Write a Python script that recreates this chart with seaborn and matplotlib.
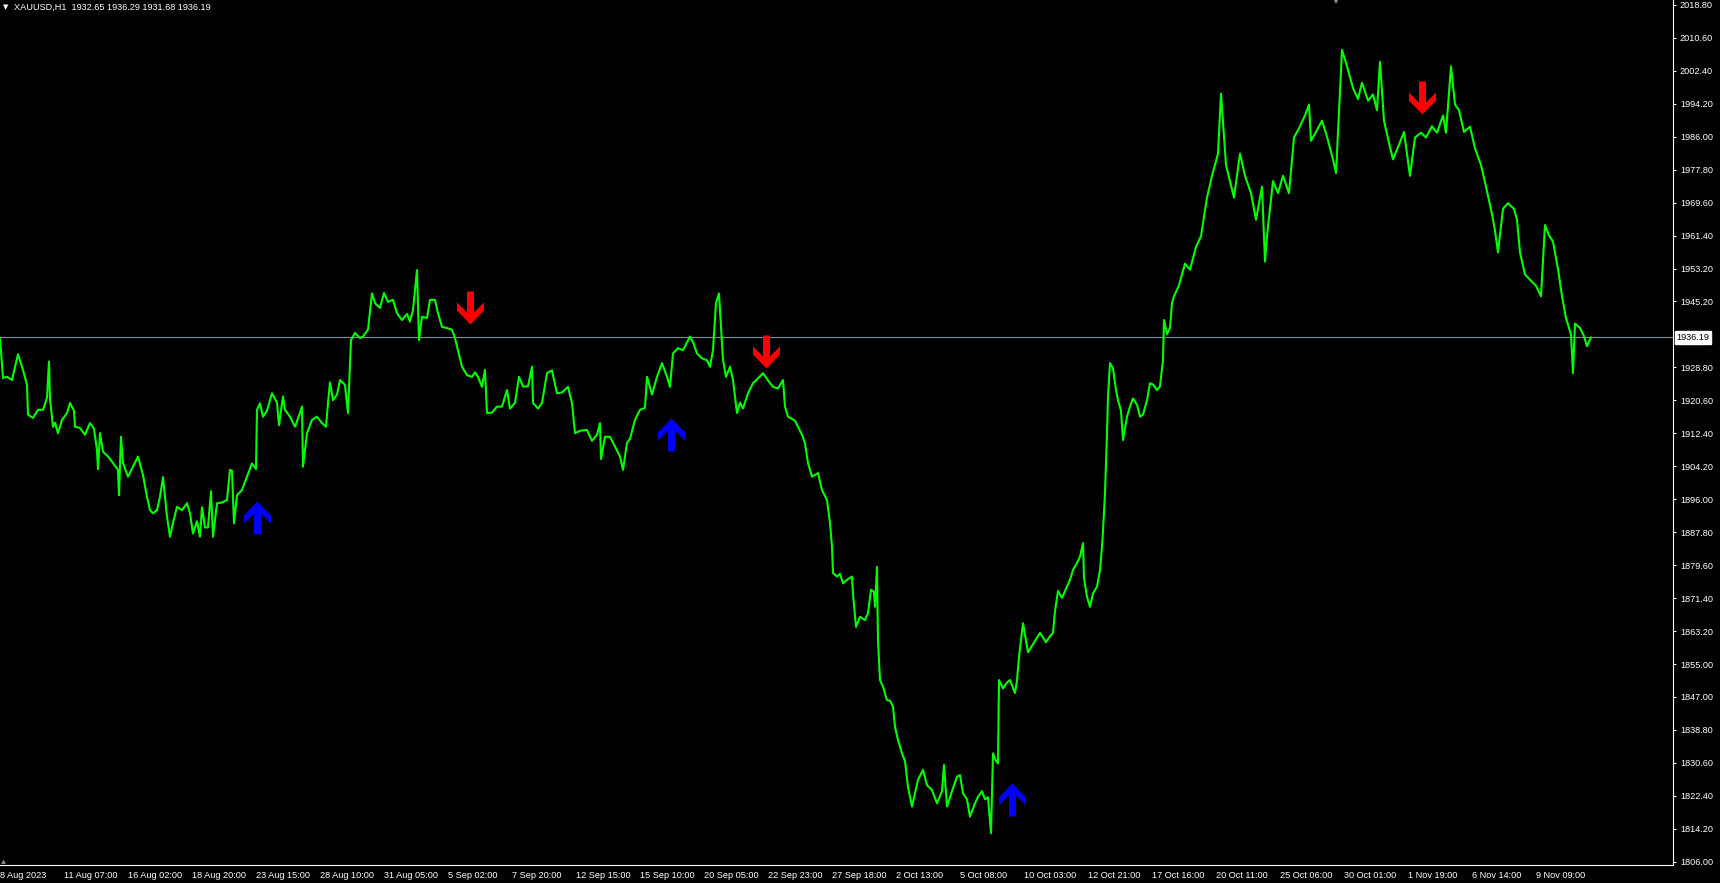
import numpy as np
import pandas as pd
import matplotlib
matplotlib.use("Agg")
import matplotlib.pyplot as plt
from matplotlib.path import Path
from matplotlib.markers import MarkerStyle
import seaborn as sns

# ---------------- data (H1 bar index, close price) ----------------
bar = [0, 3, 7, 12, 18, 23, 27, 28, 33, 38, 43, 47, 49, 50, 53, 55, 58, 62, 67, 70,
       74, 75, 80, 85, 90, 94, 97, 98, 100, 103, 108, 113, 118, 119, 121, 123, 128, 133, 138, 143,
       147, 150, 153, 157, 160, 163, 167, 170, 173, 177, 182, 187, 190, 193, 197, 200, 202, 205, 208, 211,
       213, 217, 222, 227, 230, 232, 234, 237, 242, 247, 252, 256, 257, 260, 263, 267, 272, 277, 279, 283,
       285, 290, 295, 300, 302, 303, 307, 312, 317, 322, 326, 328, 330, 333, 337, 340, 345, 348, 351, 355,
       360, 363, 368, 372, 375, 380, 384, 388, 393, 397, 402, 407, 410, 413, 417, 419, 422, 427, 430, 435,
       438, 442, 447, 452, 455, 458, 462, 467, 472, 475, 478, 482, 485, 487, 492, 497, 502, 507, 510, 515,
       519, 523, 528, 532, 533, 538, 542, 547, 552, 557, 562, 568, 572, 575, 580, 587, 592, 597, 600, 601,
       605, 610, 615, 620, 623, 627, 630, 635, 640, 645, 647, 652, 657, 662, 667, 670, 673, 678, 683, 690,
       693, 697, 702, 707, 710, 713, 716, 719, 721, 723, 726, 730, 733, 737, 740, 743, 748, 753, 758, 763,
       768, 773, 778, 783, 785, 788, 795, 798, 802, 805, 808, 812, 818, 822, 827, 830, 832, 833, 837, 840,
       843, 847, 852, 853, 856, 860, 865, 868, 871, 874, 875, 877, 878, 880, 883, 887, 890, 893, 895, 898,
       902, 905, 908, 912, 915, 918, 923, 927, 932, 937, 942, 944, 947, 952, 957, 960, 963, 967, 970, 975,
       978, 982, 985, 988, 991, 993, 996, 998, 999, 1003, 1007, 1010, 1015, 1017, 1019, 1023, 1028, 1033, 1040, 1046,
       1050, 1053, 1055, 1058, 1062, 1065, 1070, 1073, 1077, 1080, 1083, 1084, 1087, 1090, 1093, 1097, 1100, 1102, 1103, 1105,
       1107, 1108, 1110, 1113, 1116, 1118, 1121, 1123, 1127, 1130, 1133, 1137, 1140, 1143, 1147, 1150, 1153, 1157, 1160, 1163,
       1164, 1167, 1170, 1172, 1174, 1179, 1185, 1190, 1196, 1201, 1207, 1212, 1218, 1221, 1226, 1234, 1240, 1245, 1251, 1256,
       1262, 1265, 1267, 1273, 1278, 1283, 1289, 1294, 1300, 1305, 1309, 1311, 1316, 1322, 1327, 1333, 1336, 1338, 1342, 1347,
       1353, 1358, 1362, 1368, 1373, 1377, 1380, 1384, 1389, 1393, 1399, 1404, 1410, 1415, 1421, 1426, 1432, 1437, 1443, 1446,
       1451, 1455, 1459, 1464, 1470, 1475, 1481, 1486, 1492, 1495, 1498, 1503, 1508, 1514, 1517, 1520, 1525, 1530, 1536, 1541,
       1545, 1549, 1553, 1558, 1562, 1566, 1571, 1573, 1575, 1580, 1584, 1587, 1591]
close = [1936.0, 1926.1, 1926.4, 1925.6, 1932.0, 1928.1, 1924.4, 1917.0, 1916.2, 1918.2, 1918.2, 1921.2, 1930.2, 1921.0, 1914.0, 1915.0, 1912.4, 1915.7, 1917.4, 1919.9,
         1918.0, 1914.0, 1913.7, 1912.0, 1914.9, 1913.5, 1908.2, 1903.5, 1912.4, 1907.8, 1906.6, 1905.0, 1903.3, 1897.0, 1911.5, 1905.0, 1901.6, 1904.1, 1906.6, 1902.0,
         1896.6, 1893.3, 1892.5, 1893.3, 1896.6, 1901.5, 1891.7, 1886.7, 1890.1, 1894.1, 1893.3, 1895.0, 1892.5, 1887.5, 1890.5, 1886.7, 1894.0, 1889.0, 1889.0, 1898.0,
         1886.7, 1895.0, 1895.2, 1895.8, 1903.3, 1903.0, 1890.0, 1897.0, 1898.3, 1901.6, 1904.9, 1903.5, 1918.2, 1919.8, 1916.5, 1918.0, 1922.3, 1920.0, 1914.4, 1921.5,
         1918.2, 1916.5, 1914.0, 1917.4, 1919.0, 1904.1, 1912.4, 1915.7, 1916.5, 1914.9, 1914.0, 1919.9, 1925.0, 1920.6, 1922.0, 1925.6, 1924.4, 1917.4, 1935.5, 1937.3,
         1936.0, 1936.4, 1938.1, 1947.1, 1944.7, 1943.5, 1947.2, 1945.0, 1945.5, 1942.2, 1940.5, 1942.0, 1940.1, 1943.0, 1952.9, 1935.5, 1941.3, 1941.0, 1945.5, 1945.5,
         1942.2, 1938.8, 1938.5, 1938.1, 1936.0, 1933.0, 1928.9, 1926.8, 1926.4, 1927.5, 1926.4, 1923.9, 1928.1, 1917.4, 1917.5, 1919.0, 1919.0, 1923.1, 1918.5, 1919.9,
         1926.4, 1924.0, 1924.0, 1928.9, 1919.9, 1918.5, 1919.9, 1927.3, 1928.0, 1922.3, 1922.5, 1923.9, 1919.9, 1912.4, 1913.0, 1913.2, 1910.5, 1912.0, 1914.9, 1906.0,
         1911.5, 1911.5, 1909.1, 1906.6, 1903.3, 1910.0, 1911.0, 1915.7, 1918.2, 1918.7, 1926.4, 1922.0, 1926.4, 1929.8, 1926.4, 1923.9, 1932.2, 1933.5, 1933.0, 1936.4,
         1935.0, 1932.2, 1931.0, 1930.5, 1928.9, 1933.0, 1944.7, 1947.1, 1939.0, 1930.6, 1926.4, 1928.9, 1925.6, 1917.4, 1920.0, 1918.5, 1922.3, 1924.8, 1926.0, 1927.3,
         1925.5, 1923.9, 1923.5, 1925.6, 1919.0, 1916.5, 1915.5, 1914.0, 1912.0, 1909.9, 1905.0, 1901.6, 1902.5, 1898.3, 1895.8, 1890.1, 1884.2, 1877.7, 1876.8, 1877.5,
         1875.1, 1876.0, 1876.8, 1872.6, 1864.3, 1866.8, 1866.0, 1867.7, 1873.5, 1873.0, 1869.3, 1879.2, 1861.0, 1851.1, 1849.5, 1846.1, 1846.0, 1844.5, 1839.5, 1836.2,
         1832.9, 1831.0, 1824.6, 1819.7, 1823.0, 1826.3, 1828.8, 1825.0, 1823.8, 1820.5, 1823.5, 1830.0, 1819.7, 1823.5, 1827.1, 1827.5, 1823.0, 1821.5, 1817.2, 1820.5,
         1822.1, 1823.5, 1821.5, 1822.0, 1813.1, 1832.9, 1831.0, 1830.4, 1851.1, 1849.0, 1850.5, 1851.1, 1847.9, 1851.0, 1856.9, 1865.2, 1858.0, 1860.0, 1862.8, 1860.5,
         1862.0, 1862.8, 1868.2, 1873.2, 1871.5, 1873.2, 1876.0, 1878.4, 1880.2, 1881.7, 1885.1, 1876.5, 1871.8, 1869.3, 1872.6, 1874.3, 1878.4, 1884.2, 1888.1, 1897.5,
         1912.4, 1921.5, 1929.8, 1928.5, 1923.1, 1920.6, 1918.0, 1910.7, 1916.5, 1919.0, 1921.0, 1919.5, 1916.5, 1917.0, 1920.6, 1924.8, 1924.5, 1923.1, 1924.0, 1930.6,
         1940.5, 1937.0, 1938.5, 1944.7, 1946.4, 1949.1, 1954.5, 1953.0, 1958.6, 1961.3, 1970.9, 1976.3, 1981.8, 1996.7, 1979.0, 1970.9, 1981.8, 1976.3, 1972.0, 1965.4,
         1973.6, 1955.0, 1961.3, 1975.0, 1972.0, 1976.3, 1972.0, 1985.8, 1988.6, 1991.3, 1994.0, 1985.0, 1987.2, 1990.0, 1986.0, 1980.4, 1977.0, 1987.0, 2007.6, 2003.5,
         1998.1, 1995.4, 1999.4, 1995.0, 1996.5, 1992.6, 2004.6, 1990.0, 1984.5, 1980.4, 1984.0, 1987.2, 1976.3, 1985.8, 1987.0, 1985.8, 1988.6, 1987.0, 1991.3, 1987.0,
         2003.5, 1994.0, 1992.6, 1987.2, 1988.5, 1983.1, 1979.0, 1973.6, 1966.8, 1962.7, 1957.3, 1968.1, 1969.5, 1968.1, 1965.4, 1957.3, 1951.8, 1950.5, 1949.0, 1946.4,
         1964.1, 1961.5, 1960.0, 1953.2, 1946.4, 1941.0, 1936.9, 1927.3, 1939.6, 1938.5, 1936.5, 1934.0, 1936.19]

# signal arrows (bar index, price at arrow tip)
sell_bar = [470, 766, 1422]
sell_price = [1939.6, 1928.5, 1991.7]
buy_bar = [257, 671, 1012]
buy_price = [1895.6, 1916.1, 1825.5]

last_price = 1936.19
header = "XAUUSD,H1  1932.65 1936.29 1931.68 1936.19"

ytick_vals = [2018.80, 2010.60, 2002.40, 1994.20, 1986.00, 1977.80, 1969.60, 1961.40, 1953.20,
              1945.20, 1928.80, 1920.60, 1912.40, 1904.20, 1896.00, 1887.80, 1879.60,
              1871.40, 1863.20, 1855.00, 1847.00, 1838.80, 1830.60, 1822.40, 1814.20, 1806.00]
xtick_labels = ["8 Aug 2023", "11 Aug 07:00", "16 Aug 02:00", "18 Aug 20:00", "23 Aug 15:00",
                "28 Aug 10:00", "31 Aug 05:00", "5 Sep 02:00", "7 Sep 20:00", "12 Sep 15:00",
                "15 Sep 10:00", "20 Sep 05:00", "22 Sep 23:00", "27 Sep 18:00", "2 Oct 13:00",
                "5 Oct 08:00", "10 Oct 03:00", "12 Oct 21:00", "17 Oct 16:00", "20 Oct 11:00",
                "25 Oct 06:00", "30 Oct 01:00", "1 Nov 19:00", "6 Nov 14:00", "9 Nov 09:00"]
bars_per_label = 64

# ---------------- figure ----------------
sns.set_theme(style="dark")
plt.rcParams['font.family'] = ['Liberation Sans', 'DejaVu Sans']

W, H, DPI = 1720, 883, 100
fig = plt.figure(figsize=(W / DPI, H / DPI), dpi=DPI, facecolor="black")
ax = fig.add_axes([0, 18 / H, 1673 / W, 865 / H])
ax.set_facecolor("black")

df = pd.DataFrame({"bar": bar, "close": close})
sns.lineplot(data=df, x="bar", y="close", color="#00FF00", linewidth=1.5,
             estimator=None, ax=ax, zorder=3)

ax.set_xlim(0, 1673)
ax.set_ylim(1805.18, 2019.96)

# current price line
ax.axhline(last_price, color="#8090A0", linewidth=0.8, zorder=2)

# arrow markers (pixel units, tip at origin)
up_verts = [(0, 0), (13.5, -14), (13.5, -22), (3.5, -12), (3.5, -33), (-3.5, -33),
            (-3.5, -12), (-13.5, -22), (-13.5, -14), (0, 0)]
up_path = Path(up_verts, closed=True)
down_path = Path([(x, -y) for x, y in up_verts], closed=True)
msize = 2 * 33 * 72 / DPI
ax.plot(buy_bar, buy_price, linestyle="none", marker=MarkerStyle(up_path),
        markersize=msize, color="#0000FF", markeredgewidth=0, zorder=4)
ax.plot(sell_bar, sell_price, linestyle="none", marker=MarkerStyle(down_path),
        markersize=msize, color="#FF0000", markeredgewidth=0, zorder=4)

# axes styling
for s in ["left", "top"]:
    ax.spines[s].set_visible(False)
for s in ["right", "bottom"]:
    ax.spines[s].set_color("white")
    ax.spines[s].set_linewidth(0.8)
ax.grid(False)
ax.set_xlabel("")
ax.set_ylabel("")

ax.yaxis.tick_right()
ax.set_yticks(ytick_vals)
ax.set_yticklabels([f"{v:.2f}" for v in ytick_vals])
ax.tick_params(axis="y", colors="white", labelcolor="white", length=2.5, width=0.8,
               direction="out", pad=2.5, labelsize=6.6)

xt = [i * bars_per_label for i in range(len(xtick_labels))]
ax.set_xticks(xt)
ax.set_xticklabels(xtick_labels)
ax.tick_params(axis="x", colors="white", labelcolor="white", length=2.5, width=0.8,
               direction="out", pad=1.5, labelsize=6.6)
for lbl in ax.get_xticklabels():
    lbl.set_horizontalalignment("left")

# current price label box
ax.annotate(f"{last_price:.2f}", xy=(1, last_price), xycoords=("axes fraction", "data"),
            xytext=(2.5, 0), textcoords="offset points", ha="left", va="center",
            fontsize=6.6, color="black", zorder=10, annotation_clip=False,
            bbox=dict(boxstyle="square,pad=0.2", facecolor="white", edgecolor="white"))

# header text
fig.text(3 / W, 1 - 7 / H, "\u25BC", color="white", fontsize=5,
         family=["DejaVu Sans"], va="center", ha="left")
fig.text(14 / W, 1 - 7 / H, header, color="white", fontsize=6.6, va="center", ha="left")

# chart-shift marker at top and small marker at bottom-left
ax.plot([1336 / 1673], [1.0], transform=ax.transAxes, marker="v", markersize=6,
        color="#8090A0", markeredgewidth=0, clip_on=False, zorder=5)
ax.plot([0.0015], [0.003], transform=ax.transAxes, marker=(3, 0, 0), markersize=4,
        color="#8090A0", markeredgewidth=0, clip_on=False, zorder=5)

fig.savefig("out.png", dpi=DPI, facecolor="black")
